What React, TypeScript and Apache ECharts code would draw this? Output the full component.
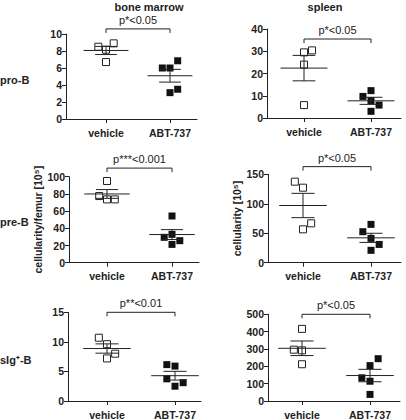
import React, { useEffect, useRef } from "react";
import * as echarts from "echarts";

// ---------- data ----------
const groups = ["vehicle", "ABT-737"];
const columnTitles = ["bone marrow", "spleen"];
const rowLabels = ["pro-B", "pre-B", "sIg⁺-B"];
const yAxisNames = ["", "", "cellularity/femur [10⁵]", "cellularity [10⁵]", "", ""];

const proBmVehicle = [8.5, 8.9, 8.15, 6.7];
const proBmAbt = [6.0, 6.0, 6.85, 3.1, 3.5];
const proSpVehicle = [29.5, 30.4, 24.0, 5.8];
const proSpAbt = [9.7, 12.3, 7.8, 5.8, 3.0];
const preBmVehicle = [95, 77.5, 73.6, 73.6];
const preBmAbt = [54.3, 33, 29.5, 25.6, 21.3];
const preSpVehicle = [137.5, 127.3, 66.8, 56.6];
const preSpAbt = [52.6, 65, 41.3, 31, 21];
const sigBmVehicle = [10.7, 9.6, 8.0, 7.2];
const sigBmAbt = [6.15, 5.9, 3.75, 3.1, 2.5];
const sigSpVehicle = [416, 296, 292, 212];
const sigSpAbt = [244, 204, 134, 114, 38];

// column-scatter slots (left / centre / right of each column)
const proBmVehicleSlot = [-1, 1, 0, 0];
const proBmAbtSlot = [-1, 0, 1, 0, 1];
const proSpVehicleSlot = [0, 1, 0, 0];
const proSpAbtSlot = [-1, 0, 0, 1, 0];
const preBmVehicleSlot = [0, -1, 0, 1];
const preBmAbtSlot = [0, 0, -1, 1, 0];
const preSpVehicleSlot = [-1, 0, 1, 0];
const preSpAbtSlot = [-1, 0, 0, 1, 0];
const sigBmVehicleSlot = [-1, 0, 1, 0];
const sigBmAbtSlot = [-1, 0, -1, 1, 0];
const sigSpVehicleSlot = [0, -1, 0, 0];
const sigSpAbtSlot = [1, 0, -1, 0, 0];

const pLabels = ["p*<0.05", "p*<0.05", "p***<0.001", "p*<0.05", "p**<0.01", "p*<0.05"];
const yMax = [10, 40, 100, 150, 15, 500];
const yStep = [2, 10, 20, 50, 5, 100];
const bracketLevel = [10.6, 35.5, 110, 163, 15, 500];

// ---------- layout ----------
const FONT = "Liberation Sans, Arial, Helvetica, sans-serif";
const INK = "#222";
// [y-axis x, x of vehicle tick, x of ABT tick, x-axis right end, top, bottom]
const panelBox = [
  [66, 106, 170, 197, 34, 119],
  [267, 304, 371, 401, 29, 118],
  [69, 107, 172, 199, 176.7, 262.7],
  [268, 303, 371, 401, 174.3, 262.7],
  [68, 107, 175, 201, 312.3, 401.7],
  [268, 302, 370, 400, 314.3, 401.7],
];
const SLOT = 0.12;

function mean(a: number[]) {
  return a.reduce((s, v) => s + v, 0) / a.length;
}
function sem(a: number[]) {
  const m = mean(a);
  const v = a.reduce((s, x) => s + (x - m) * (x - m), 0) / (a.length - 1);
  return Math.sqrt(v) / Math.sqrt(a.length);
}

const panels = [
  [proBmVehicle, proBmVehicleSlot, proBmAbt, proBmAbtSlot],
  [proSpVehicle, proSpVehicleSlot, proSpAbt, proSpAbtSlot],
  [preBmVehicle, preBmVehicleSlot, preBmAbt, preBmAbtSlot],
  [preSpVehicle, preSpVehicleSlot, preSpAbt, preSpAbtSlot],
  [sigBmVehicle, sigBmVehicleSlot, sigBmAbt, sigBmAbtSlot],
  [sigSpVehicle, sigSpVehicleSlot, sigSpAbt, sigSpAbtSlot],
];

function buildOption() {
  const grid: any[] = [];
  const xAxis: any[] = [];
  const yAxis: any[] = [];
  const series: any[] = [];
  const lineStyle = { stroke: INK, lineWidth: 1 };

  panels.forEach((p, i) => {
    const [ax, x0, x1, xr, top, bottom] = panelBox[i];
    const s = x1 - x0;
    const xMin = (ax - x0) / s;
    const xMax = 1 + (xr - x1) / s;
    grid.push({
      left: ax,
      width: xr - ax,
      top,
      height: bottom - top,
      containLabel: false,
    });
    xAxis.push({
      gridIndex: i,
      type: "value",
      min: xMin,
      max: xMax,
      axisLine: { show: true, onZero: false, lineStyle: { color: INK, width: 1 } },
      axisTick: { show: true, customValues: [0, 1], length: 4, lineStyle: { color: INK } },
      axisLabel: {
        customValues: [0, 1],
        formatter: (v: number) => (Math.abs(v) < 1e-6 ? groups[0] : Math.abs(v - 1) < 1e-6 ? groups[1] : ""),
        fontFamily: FONT,
        fontWeight: "bold",
        fontSize: 10.5,
        color: INK,
        margin: 8,
      },
      splitLine: { show: false },
    });
    yAxis.push({
      gridIndex: i,
      type: "value",
      min: 0,
      max: yMax[i],
      interval: yStep[i],
      name: yAxisNames[i],
      nameLocation: "middle",
      nameRotate: 90,
      nameGap: 24,
      nameTextStyle: { fontFamily: FONT, fontWeight: "bold", fontSize: 10.5, color: INK },
      axisLine: { show: true, onZero: false, lineStyle: { color: INK, width: 1 } },
      axisTick: { show: true, length: 4, lineStyle: { color: INK } },
      axisLabel: { fontFamily: FONT, fontWeight: "bold", fontSize: 10.5, color: INK, margin: 4 },
      splitLine: { show: false },
    });

    const [veh, vehSlot, abt, abtSlot] = p as number[][];
    series.push({
      type: "scatter",
      xAxisIndex: i,
      yAxisIndex: i,
      symbol: "rect",
      symbolSize: 7,
      itemStyle: { color: "#fff", borderColor: INK, borderWidth: 1, opacity: 1 },
      data: veh.map((v, k) => [vehSlot[k] * SLOT, v]),
      z: 2,
    });
    series.push({
      type: "scatter",
      xAxisIndex: i,
      yAxisIndex: i,
      symbol: "rect",
      symbolSize: 7,
      itemStyle: { color: "#111", borderColor: "#111", borderWidth: 0, opacity: 1 },
      data: abt.map((v, k) => [1 + abtSlot[k] * SLOT, v]),
      z: 2,
    });
    // mean ± SEM
    series.push({
      type: "custom",
      xAxisIndex: i,
      yAxisIndex: i,
      z: 3,
      data: [
        [0, mean(veh), sem(veh)],
        [1, mean(abt), sem(abt)],
      ],
      renderItem: (params: any, api: any) => {
        const x = api.value(0);
        const m = api.value(1);
        const e = api.value(2);
        const cL = api.coord([x - 0.35, m]);
        const cR = api.coord([x + 0.35, m]);
        const hiL = api.coord([x - 0.17, m + e]);
        const hiR = api.coord([x + 0.17, m + e]);
        const loL = api.coord([x - 0.17, m - e]);
        const loR = api.coord([x + 0.17, m - e]);
        const c = api.coord([x, m]);
        return {
          type: "group",
          children: [
            { type: "line", shape: { x1: cL[0], y1: cL[1], x2: cR[0], y2: cR[1] }, style: lineStyle },
            { type: "line", shape: { x1: c[0], y1: hiL[1], x2: c[0], y2: loL[1] }, style: lineStyle },
            { type: "line", shape: { x1: hiL[0], y1: hiL[1], x2: hiR[0], y2: hiR[1] }, style: lineStyle },
            { type: "line", shape: { x1: loL[0], y1: loL[1], x2: loR[0], y2: loR[1] }, style: lineStyle },
          ],
        };
      },
    });
    // significance bracket
    series.push({
      type: "custom",
      xAxisIndex: i,
      yAxisIndex: i,
      z: 3,
      clip: false,
      data: [[0, 1, bracketLevel[i]]],
      renderItem: (params: any, api: any) => {
        const a = api.coord([api.value(0), api.value(2)]);
        const b = api.coord([api.value(1), api.value(2)]);
        const y = a[1];
        return {
          type: "group",
          children: [
            {
              type: "polyline",
              shape: { points: [[a[0], y + 4], [a[0], y], [b[0], y], [b[0], y + 4]] },
              style: { stroke: INK, lineWidth: 1, fill: null },
            },
            {
              type: "text",
              style: {
                text: pLabels[i],
                x: (a[0] + b[0]) / 2,
                y: y - 9,
                align: "center",
                verticalAlign: "middle",
                fontFamily: FONT,
                fontSize: 11,
                fill: INK,
              },
            },
          ],
        };
      },
    });
  });

  const tStyle = (text: string, align: string) => ({
    text,
    align,
    verticalAlign: "middle",
    fontFamily: FONT,
    fontWeight: "bold",
    fontSize: 11,
    fill: INK,
  });
  const graphic: any[] = [
    { type: "text", x: 149, y: 7, style: tStyle(columnTitles[0], "center") },
    { type: "text", x: 325, y: 7, style: tStyle(columnTitles[1], "center") },
    { type: "text", x: 0, y: 80, style: tStyle(rowLabels[0], "left") },
    { type: "text", x: 0, y: 222, style: tStyle(rowLabels[1], "left") },
    { type: "text", x: 0, y: 360, style: tStyle(rowLabels[2], "left") },
  ];

  return {
    animation: false,
    backgroundColor: "#fff",
    grid,
    xAxis,
    yAxis,
    series,
    graphic,
  };
}

export default function App() {
  const ref = useRef<HTMLDivElement>(null);
  useEffect(() => {
    if (!ref.current) return;
    const chart = echarts.init(ref.current, undefined, { renderer: "svg" });
    chart.setOption(buildOption() as any);
    return () => chart.dispose();
  }, []);
  return (
    <div
      ref={ref}
      style={{ position: "absolute", left: 0, top: 0, width: 406, height: 420, background: "#fff" }}
    />
  );
}
